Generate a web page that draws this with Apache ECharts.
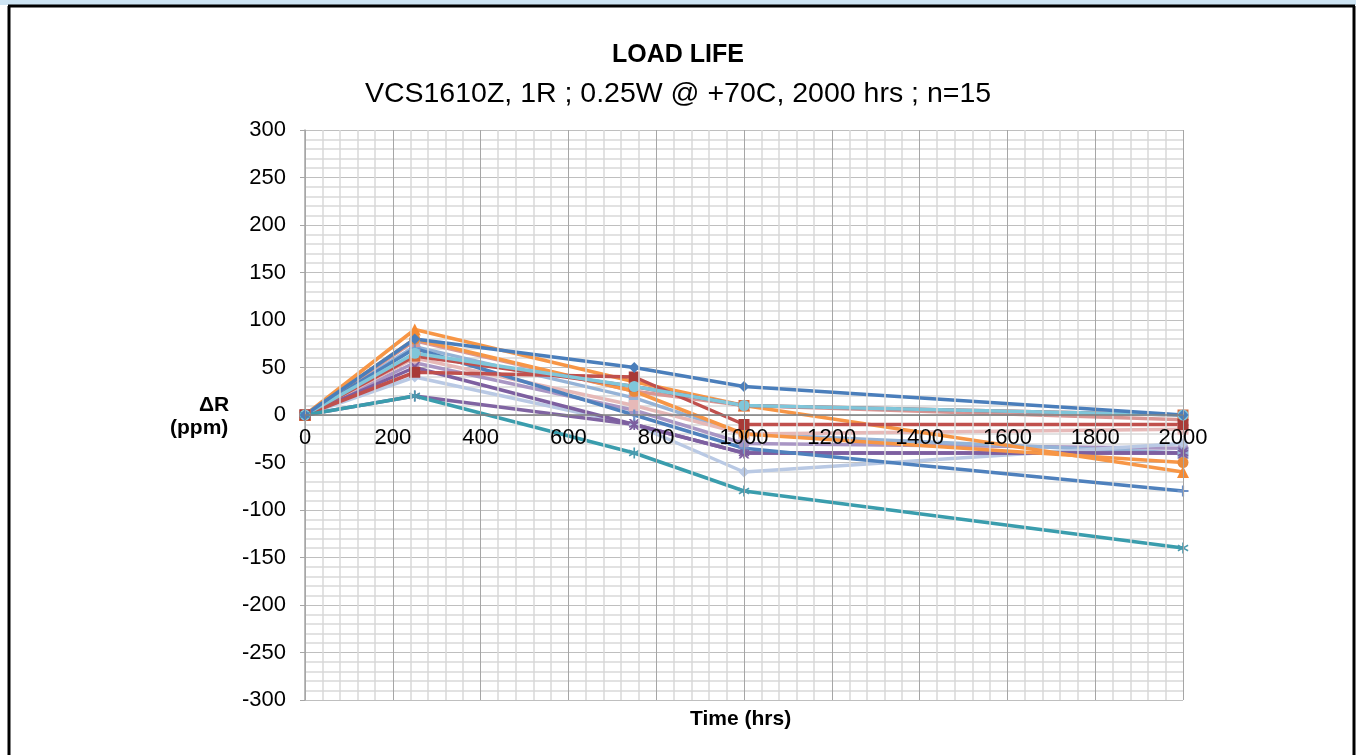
<!DOCTYPE html>
<html>
<head>
<meta charset="utf-8">
<script src="https://cdn.jsdelivr.net/npm/echarts@6/dist/echarts.min.js"></script>
<style>
  html, body { margin: 0; padding: 0; background: #fff; }
  #chart { width: 1356px; height: 755px; }
</style>
</head>
<body>
<div id="chart"></div>
<script>
// test points (hrs)
const hours = [0, 250, 750, 1000, 2000];

// ΔR in ppm, one array per resistor
const r01 = [0, 80, 50, 30, 0];
const r02 = [0, 45, 40, -10, -10];
const r03 = [0, 62, 30, 10, 0];
const r04 = [0, 50, -10, -40, -40];
const r05 = [0, 20, -40, -80, -140];
const r06 = [0, 80, 25, -20, -50];
const r07 = [0, 70, 0, -35, -80];
const r08 = [0, 78, 25, 10, -5];
const r09 = [0, 65, 30, 10, 0];
const r10 = [0, 72, 18, -20, -40];
const r11 = [0, 55, 5, -30, -35];
const r12 = [0, 60, 10, -20, -15];
const r13 = [0, 90, 35, 10, -60];
const r14 = [0, 40, -10, -60, -30];
const r15 = [0, 20, -10, -40, -40];

const yTicks = [-300, 300, 50];
const xTicks = [0, 2000, 200];

const X_SYM = "path://M0,0L2,0L5,3L8,0L10,0L6,5L10,10L8,10L5,7L2,10L0,10L4,5Z";
const PLUS_SYM = "path://M4,0L6,0L6,4L10,4L10,6L6,6L6,10L4,10L4,6L0,6L0,4L4,4Z";
const STAR_SYM = "path://M4.3,0L5.7,0L5.7,3.8L9,1.9L9.7,3.1L6.4,5L9.7,6.9L9,8.1L5.7,6.2L5.7,10L4.3,10L4.3,6.2L1,8.1L0.3,6.9L3.6,5L0.3,3.1L1,1.9L4.3,3.8Z";

const looks = [
  { data: r11, line: "#a996c4", mark: "#a996c4", sym: "circle" },
  { data: r10, line: "#95b3d7", mark: "#95b3d7", sym: "rect" },
  { data: r14, line: "#b9c9e4", mark: "#b9c9e4", sym: "diamond" },
  { data: r12, line: "#e6b9b8", mark: "#e6b9b8", sym: "rect" },
  { data: r08, line: "#d99694", mark: "#d99694", sym: "triangle" },
  { data: r15, line: "#8064a2", mark: "#7a5c9e", sym: STAR_SYM },
  { data: r04, line: "#7d5fa0", mark: "#7d5fa0", sym: X_SYM },
  { data: r07, line: "#4f81bd", mark: "#6e92c8", sym: PLUS_SYM },
  { data: r06, line: "#f79646", mark: "#e98a3a", sym: "circle" },
  { data: r13, line: "#f79646", mark: "#f58a33", sym: "triangle" },
  { data: r03, line: "#c0504d", mark: "#d46b3e", sym: "rect" },
  { data: r02, line: "#c0504d", mark: "#a83a37", sym: "rect" },
  { data: r09, line: "#7fc6da", mark: "#7fc6da", sym: "circle" },
  { data: r05, line: "#3a9dad", mark: "#4a9aae", sym: STAR_SYM },
  { data: r01, line: "#4a7ebb", mark: "#4a7ebb", sym: "diamond" }
];

const FONT = "Liberation Sans, Arial, sans-serif";
const chart = echarts.init(document.getElementById("chart"));

chart.setOption({
  animation: false,
  textStyle: { fontFamily: FONT },
  title: [
    {
      text: "LOAD LIFE",
      left: "center",
      top: 38,
      textStyle: { fontSize: 25, fontWeight: "bold", color: "#000" }
    },
    {
      text: "VCS1610Z, 1R ; 0.25W @ +70C, 2000 hrs ; n=15",
      left: "center",
      top: 75,
      textStyle: { fontSize: 28.5, fontWeight: "normal", color: "#000" }
    }
  ],
  grid: { left: 305, right: 173, top: 130, bottom: 55 },
  xAxis: {
    type: "value",
    min: xTicks[0],
    max: xTicks[1],
    interval: xTicks[2],
    // sit the axis (line + labels) on the zero line, drawn above the series
    offset: -285,
    z: 5,
    axisLine: { onZero: false, lineStyle: { color: "#808080", width: 1.5 } },
    axisTick: { show: true, length: 5, lineStyle: { color: "#808080" } },
    axisLabel: { fontSize: 22, color: "#000", margin: 12, formatter: (v) => String(v) },
    splitLine: { show: true, lineStyle: { color: "#a6a6a6", width: 1 } },
    minorTick: { show: false, splitNumber: 5 },
    minorSplitLine: { show: true, lineStyle: { color: "#d9d9d9", width: 1.5 } }
  },
  yAxis: {
    type: "value",
    min: yTicks[0],
    max: yTicks[1],
    interval: yTicks[2],
    axisLine: { show: true, onZero: false, lineStyle: { color: "#a6a6a6", width: 1.5 } },
    axisTick: { show: true, length: 5, lineStyle: { color: "#a6a6a6" } },
    axisLabel: { fontSize: 22, color: "#000", margin: 19 },
    splitLine: { show: true, lineStyle: { color: "#bfbfbf", width: 1 } },
    minorTick: { show: false, splitNumber: 5 },
    minorSplitLine: { show: true, lineStyle: { color: "#d9d9d9", width: 1.5 } }
  },
  graphic: [
    { type: "rect", shape: { x: 0, y: 0, width: 1356, height: 5 }, style: { fill: "#cde4f3" } },
    { type: "line", shape: { x1: 8, y1: 6, x2: 1355, y2: 6 }, style: { stroke: "#000", lineWidth: 3 } },
    { type: "line", shape: { x1: 9, y1: 6, x2: 9, y2: 755 }, style: { stroke: "#000", lineWidth: 3 } },
    { type: "line", shape: { x1: 1354, y1: 6, x2: 1354, y2: 755 }, style: { stroke: "#000", lineWidth: 3 } },
    {
      type: "text", left: 199, top: 395,
      style: { text: "ΔR", font: "bold 21px " + FONT, fill: "#000" }
    },
    {
      type: "text", left: 170, top: 418,
      style: { text: "(ppm)", font: "bold 21px " + FONT, fill: "#000" }
    },
    {
      type: "text", left: 690, top: 709,
      style: { text: "Time (hrs)", font: "bold 21px " + FONT, fill: "#000" }
    }
  ],
  series: looks.map((s, i) => ({
    name: "R" + (i + 1),
    type: "line",
    data: hours.map((h, k) => [h, s.data[k]]),
    symbol: s.sym,
    symbolSize: s.sym === "triangle" ? 12 : 11,
    showSymbol: true,
    lineStyle: { color: s.line, width: 3.5 },
    itemStyle: { color: s.mark, borderWidth: 0 }
  }))
});
</script>
</body>
</html>
